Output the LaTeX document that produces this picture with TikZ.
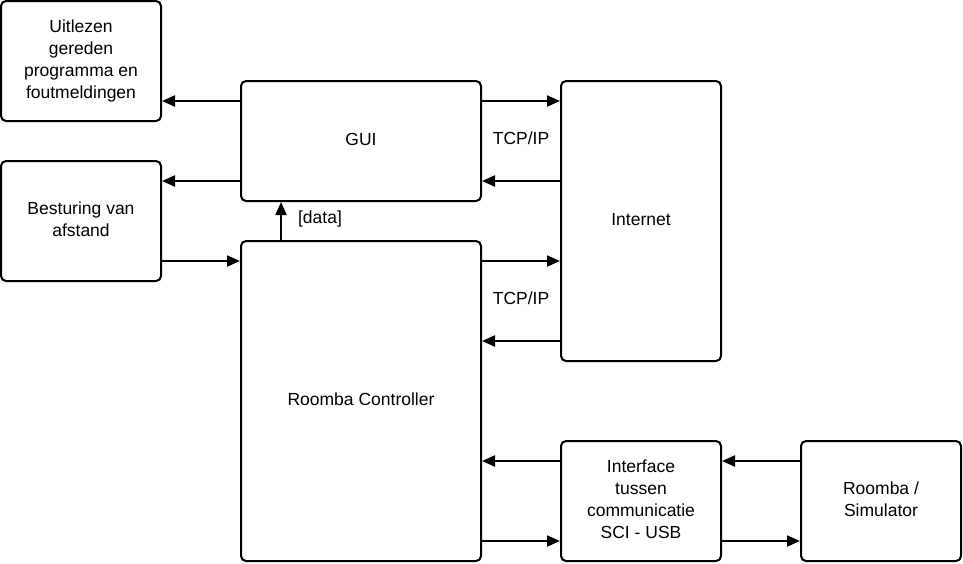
\documentclass[tikz,border=0pt]{standalone}
\usepackage{fontspec}
\setmainfont{Liberation Sans}
\usetikzlibrary{arrows.meta}
\newcommand\uptext[1]{\raisebox{2.5pt}{\begin{tabular}{@{}c@{}}#1\end{tabular}}}
\begin{document}
\begin{tikzpicture}[x=1pt,y=-1pt,
  blk/.style={draw,line width=2pt,rounded corners=5pt,align=center,font=\fontsize{17.5}{21.8}\selectfont,inner sep=0pt},
  conn/.style={line width=2pt,-{Triangle[length=13pt,width=11pt]}},
  lbl/.style={font=\fontsize{17.5}{21.8}\selectfont,inner sep=0pt}]
\useasboundingbox (0,0) rectangle (963,563);
\node[blk,minimum width=160pt,minimum height=120pt] (uit) at (81,61) {\uptext{Uitlezen\\gereden\\programma en\\foutmeldingen}};
\node[blk,minimum width=160pt,minimum height=120pt] (bes) at (81,221) {\uptext{Besturing van\\afstand}};
\node[blk,minimum width=240pt,minimum height=120pt] (gui) at (361,141) {\uptext{GUI}};
\node[blk,minimum width=160pt,minimum height=280pt] (int) at (641,221) {\uptext{Internet}};
\node[blk,minimum width=240pt,minimum height=320pt] (rc) at (361,401) {\uptext{Roomba Controller}};
\node[blk,minimum width=160pt,minimum height=120pt] (ifc) at (641,501) {\uptext{Interface\\tussen\\communicatie\\SCI - USB}};
\node[blk,minimum width=160pt,minimum height=120pt] (rs) at (881,501) {\uptext{Roomba /\\Simulator}};
\draw[conn] (gui.west |- 0,101) -- (uit.east |- 0,101);
\draw[conn] (gui.west |- 0,181) -- (bes.east |- 0,181);
\draw[conn] (bes.east |- 0,261) -- (rc.west |- 0,261);
\draw[conn] (rc.north -| 281,0) -- (gui.south -| 281,0);
\node[lbl] (data) at (320,219) {[data]};
\draw[conn] (gui.east |- 0,101) -- (int.west |- 0,101);
\draw[conn] (int.west |- 0,181) -- (gui.east |- 0,181);
\node[lbl] (tcp1) at (521,138) {TCP/IP};
\draw[conn] (rc.east |- 0,261) -- (int.west |- 0,261);
\draw[conn] (int.west |- 0,341) -- (rc.east |- 0,341);
\node[lbl] (tcp2) at (521,298) {TCP/IP};
\draw[conn] (ifc.west |- 0,461) -- (rc.east |- 0,461);
\draw[conn] (rc.east |- 0,541) -- (ifc.west |- 0,541);
\draw[conn] (rs.west |- 0,461) -- (ifc.east |- 0,461);
\draw[conn] (ifc.east |- 0,541) -- (rs.west |- 0,541);
\end{tikzpicture}
\end{document}
